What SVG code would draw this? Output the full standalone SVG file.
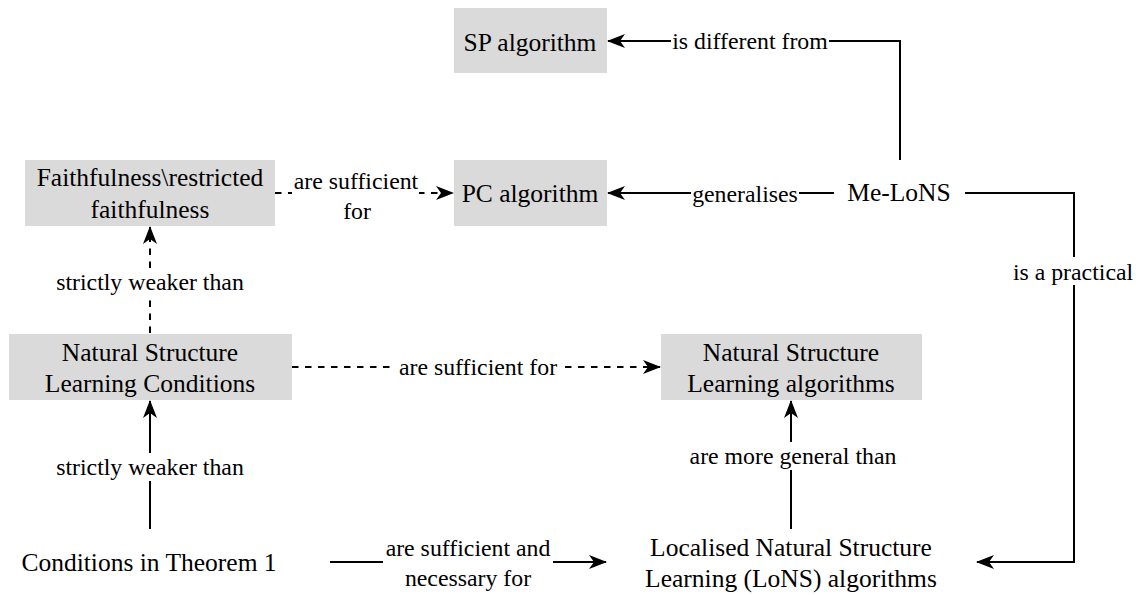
<svg xmlns="http://www.w3.org/2000/svg" width="1140" height="595" viewBox="0 0 1140 595">
<style>
.box{fill:#dadada;stroke:none}
.nt{font-family:'Times New Roman',serif;font-size:25.5px;fill:#000;text-anchor:middle}
.lt{font-family:'Times New Roman',serif;font-size:23.8px;fill:#000;text-anchor:middle}
.ln{fill:none;stroke:#000;stroke-width:2}
.dash{stroke-dasharray:6.5 6.5}
.lbg{fill:#fff;stroke:none}
</style>
<defs>
<marker id="arr" markerUnits="userSpaceOnUse" viewBox="0 0 18 14" markerWidth="18" markerHeight="14" refX="17" refY="7" orient="auto">
<path d="M0,0 L18,7 L0,14 L5,7 Z" fill="#000"/>
</marker>
</defs>
<rect width="1140" height="595" fill="#fff"/>
<g id="connectors">
<path class="ln" d="M900,160 L900,41 L608,41" marker-end="url(#arr)"/>
<path class="ln" d="M834,193 L608,193" marker-end="url(#arr)"/>
<path class="ln" d="M965,193 L1074,193 L1074,562 L977,562" marker-end="url(#arr)"/>
<path class="ln dash" d="M275,193 L453,193" marker-end="url(#arr)"/>
<path class="ln dash" d="M150,333 L150,227" marker-end="url(#arr)"/>
<path class="ln dash" d="M292,367 L660,367" marker-end="url(#arr)"/>
<path class="ln" d="M791,529 L791,401" marker-end="url(#arr)"/>
<path class="ln" d="M150,529 L150,401" marker-end="url(#arr)"/>
<path class="ln" d="M330,562 L606,562" marker-end="url(#arr)"/>
<rect class="lbg" x="671" y="29" width="158" height="24"/>
<text class="lt" x="750" y="49">is different from</text>
<rect class="lbg" x="691" y="181" width="108" height="26"/>
<text class="lt" x="745" y="202">generalises</text>
<rect class="lbg" x="1011" y="257" width="124" height="28"/>
<text class="lt" x="1073" y="280">is a practical</text>
<rect class="lbg" x="292" y="167" width="127" height="60"/>
<text class="lt" x="356" y="189">are sufficient</text>
<text class="lt" x="357" y="219">for</text>
<rect class="lbg" x="55" y="268" width="190" height="28"/>
<text class="lt" x="150" y="290">strictly weaker than</text>
<rect class="lbg" x="395" y="354" width="168" height="27"/>
<text class="lt" x="478" y="375">are sufficient for</text>
<rect class="lbg" x="688" y="442" width="211" height="28"/>
<text class="lt" x="793" y="464">are more general than</text>
<rect class="lbg" x="55" y="453" width="190" height="28"/>
<text class="lt" x="150" y="475">strictly weaker than</text>
<rect class="lbg" x="383" y="533" width="170" height="61"/>
<text class="lt" x="468" y="556">are sufficient and</text>
<text class="lt" x="468" y="586">necessary for</text>
</g>
<g id="sp">
<rect class="box" x="454" y="8" width="153" height="65"/>
<text class="nt" x="530" y="51">SP algorithm</text>
</g>
<g id="pc">
<rect class="box" x="454" y="160" width="153" height="66"/>
<text class="nt" x="530" y="202">PC algorithm</text>
</g>
<g id="melons">
<text class="nt" x="899" y="201">Me-LoNS</text>
</g>
<g id="faith">
<rect class="box" x="25" y="160" width="250" height="66"/>
<text class="nt" x="150" y="186">Faithfulness\restricted</text>
<text class="nt" x="150" y="218">faithfulness</text>
</g>
<g id="nslc">
<rect class="box" x="9" y="334" width="283" height="66"/>
<text class="nt" x="150" y="361">Natural Structure</text>
<text class="nt" x="150" y="392">Learning Conditions</text>
</g>
<g id="nsla">
<rect class="box" x="661" y="334" width="261" height="66"/>
<text class="nt" x="791" y="361">Natural Structure</text>
<text class="nt" x="791" y="392">Learning algorithms</text>
</g>
<g id="cond">
<text class="nt" x="149" y="571">Conditions in Theorem 1</text>
</g>
<g id="lons">
<text class="nt" x="791" y="556">Localised Natural Structure</text>
<text class="nt" x="791" y="587">Learning (LoNS) algorithms</text>
</g>
</svg>
